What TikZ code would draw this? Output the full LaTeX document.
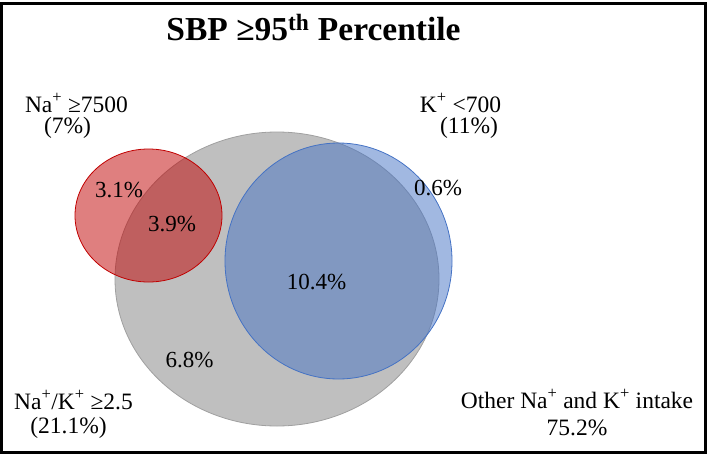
\documentclass[tikz,border=0pt]{standalone}
\usepackage{fontspec}
\setmainfont{Liberation Serif}
\usetikzlibrary{shapes.geometric}
\definecolor{graysetfill}{HTML}{BFBFBF}
\definecolor{graysetline}{HTML}{A0A0A0}
\definecolor{redset}{HTML}{C00000}
\definecolor{blueset}{HTML}{4472C4}
\begin{document}
\begin{tikzpicture}[x=1pt,y=-1pt,
  setshape/.style={ellipse, inner sep=0pt, line width=0.8pt},
  lbl/.style={font=\fontsize{23.5}{26}\selectfont, anchor=base, inner sep=0pt},
  pct/.style={font=\fontsize{23}{26}\selectfont, anchor=base, inner sep=0pt},
  titlestyle/.style={font=\bfseries\fontsize{33.5}{36}\selectfont, anchor=base, inner sep=0pt}]
\useasboundingbox (0,0) rectangle (709,455);
\draw[line width=3pt] (1.5,3) rectangle (705,452);
% sets
\node[setshape, minimum width=324pt, minimum height=294pt,
      fill=graysetfill, draw=graysetline] (ratio) at (277,279) {};
\node[setshape, minimum width=147pt, minimum height=133pt,
      fill=redset, fill opacity=0.5, draw=redset] (sodium) at (148.5,215.5) {};
\node[setshape, minimum width=227pt, minimum height=236pt,
      fill=blueset, fill opacity=0.5, draw=blueset] (potassium) at (338.5,261) {};
% title
\node[titlestyle] (title) at (313.5,40) {SBP ≥95\textsuperscript{th} Percentile};
% labels
\node[lbl] (nalbl) at (76.5,112) {Na\textsuperscript{+} ≥7500};
\node[lbl] (napct) at (67.5,133) {(7\%)};
\node[lbl] (klbl) at (460.5,112) {K\textsuperscript{+} <700};
\node[lbl] (kpct) at (469,133) {(11\%)};
\node[lbl] (ratiolbl) at (73.5,409) {Na\textsuperscript{+}/K\textsuperscript{+} ≥2.5};
\node[lbl] (ratiopct) at (68.5,433) {(21.1\%)};
\node[lbl] (otherlbl) at (577,408) {Other Na\textsuperscript{+} and K\textsuperscript{+} intake};
\node[lbl] (otherpct) at (577,435) {75.2\%};
% region values
\node[pct] (naonly) at (119,197) {3.1\%};
\node[pct] (naratio) at (172,231.5) {3.9\%};
\node[pct] (konly) at (438,195) {0.6\%};
\node[pct] (kratio) at (316.5,289) {10.4\%};
\node[pct] (ratioonly) at (189.5,367) {6.8\%};
\end{tikzpicture}
\end{document}
